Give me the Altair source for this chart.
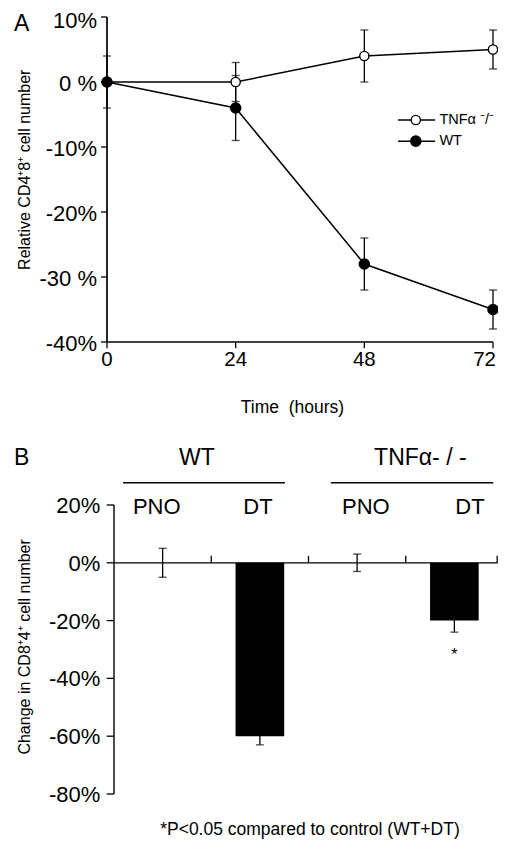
import altair as alt
import pandas as pd

FONT = "Liberation Sans"

# ---------- Panel A data ----------
hours = [0, 24, 48, 72]
tnf_mean = [0, 0, 4, 5]
tnf_err = [0, 3, 4, 3]
wt_mean = [0, -4, -28, -35]
wt_err = [4, 5, 4, 3]
a_yticks = [10, 0, -10, -20, -30, -40]
a_ylabels = ["10%", "0 %", "-10%", "-20%", "-30 %", "-40%"]
a_xlabels = ["0", "24", "48", "72"]

# ---------- Panel B data ----------
b_pos = [0, 1, 2, 3]
b_group = ["WT", "WT", "TNFα-/-", "TNFα-/-"]
b_treat = ["PNO", "DT", "PNO", "DT"]
b_change = [0, -60, 0, -20]
b_err = [5, 3, 3, 4]
b_yticks = [20, 0, -20, -40, -60, -80]
b_ylabels = ["20%", "0%", "-20%", "-40%", "-60%", "-80%"]

TITLE_A = "Relative CD4⁺8⁺ cell number"
TITLE_B = "Change in CD8⁺4⁺ cell number"

W, H = 490, 832

# scales (whole drawing area holds both panels)
sxA = alt.Scale(domain=[-18.466, 72.933], nice=False, zero=False)
syA = alt.Scale(domain=[-116.615, 11.385], nice=False, zero=False)
sxB = alt.Scale(domain=[-1.09, 3.9486], nice=False, zero=False)
syB = alt.Scale(domain=[-95.92, 191.97], nice=False, zero=False)


def XA(f):
    return alt.X(f, type="quantitative", scale=sxA, axis=None)


def YA(f):
    return alt.Y(f, type="quantitative", scale=syA, axis=None)


def XB(f):
    return alt.X(f, type="quantitative", scale=sxB, axis=None)


def YB(f):
    return alt.Y(f, type="quantitative", scale=syB, axis=None)


def txt(df, size, **kw):
    return alt.Chart(df).mark_text(font=FONT, fontSize=size, color="black", **kw)


# ================= Panel A =================
rows = []
for h, m, e in zip(hours, tnf_mean, tnf_err):
    rows.append(dict(hours=h, value=m, lo=m - e, hi=m + e, series="TNF"))
for h, m, e in zip(hours, wt_mean, wt_err):
    rows.append(dict(hours=h, value=m, lo=m - e, hi=m + e, series="WT"))
dfA = pd.DataFrame(rows)
baseA = alt.Chart(dfA)

lineA = baseA.mark_line(color="black", strokeWidth=1.5).encode(
    x=XA("hours"), y=YA("value"), detail="series:N")
errA = baseA.mark_errorbar(ticks=True, size=8, thickness=1.3, color="black").encode(
    x=XA("hours"), y=YA("lo"), y2="hi:Q")
ptsWT = baseA.transform_filter("datum.series == 'WT'").mark_point(
    shape="circle", filled=True, size=135, color="black", opacity=1).encode(
    x=XA("hours"), y=YA("value"))
ptsTNF = baseA.transform_filter("datum.series == 'TNF'").mark_point(
    shape="circle", filled=True, fill="white", stroke="black", strokeWidth=1.4,
    size=85, opacity=1).encode(x=XA("hours"), y=YA("value"))

# axes of panel A
dfAyt = pd.DataFrame(dict(v=a_yticks, lab=a_ylabels, x0=[0.0] * 6, x1=[-1.12] * 6, xl=[-1.865] * 6))
aYdom = alt.Chart(pd.DataFrame(dict(x=[0], y0=[-40], y1=[10]))).mark_rule(
    color="black", strokeWidth=1.7).encode(x=XA("x"), y=YA("y0"), y2="y1:Q")
aYtick = alt.Chart(dfAyt).mark_rule(color="black", strokeWidth=1.3).encode(
    x=XA("x0"), x2="x1:Q", y=YA("v"))
aYlab = txt(dfAyt, 22, align="right", baseline="middle", dy=2).transform_filter(
    "datum.v < 10").encode(x=XA("xl"), y=YA("v"), text="lab:N")
# top label kept a little lower so it stays inside the page
aYlabTop = txt(dfAyt, 22, align="right", baseline="middle", dy=4).transform_filter(
    "datum.v == 10").encode(x=XA("xl"), y=YA("v"), text="lab:N")

dfAxt = pd.DataFrame(dict(h=hours, lab=a_xlabels, y0=[-40] * 4, y1=[-40.95] * 4, yl=[-42.8] * 4))
aXdom = alt.Chart(pd.DataFrame(dict(x0=[0], x1=[72], y=[-40]))).mark_rule(
    color="black", strokeWidth=1.7).encode(x=XA("x0"), x2="x1:Q", y=YA("y"))
aXtick = alt.Chart(dfAxt).mark_rule(color="black", strokeWidth=1.3).encode(
    x=XA("h"), y=YA("y0"), y2="y1:Q")
aXlab = txt(dfAxt, 20.5, align="center", baseline="middle").transform_filter(
    "datum.h < 72").encode(x=XA("h"), y=YA("yl"), text="lab:N")
# last label sits against the right edge of the page
aXlabLast = txt(dfAxt, 20.5, align="right", baseline="middle", dx=3).transform_filter(
    "datum.h == 72").encode(x=XA("h"), y=YA("yl"), text="lab:N")

aTitles = pd.DataFrame(dict(t=["Time\u00a0\u00a0(hours)"], x=[34.6], y=[-50.2]))
aXtitle = txt(aTitles, 17.5, align="center", baseline="middle").encode(
    x=XA("x"), y=YA("y"), text="t:N")
aYt = pd.DataFrame(dict(t=[TITLE_A], x=[-15.3], y=[-13.5]))
aYtitle = txt(aYt, 16, align="center", baseline="middle", angle=270).encode(
    x=XA("x"), y=YA("y"), text="t:N")
labA = txt(pd.DataFrame(dict(t=["A"], x=[-15.9], y=[9.0])), 23, align="center",
           baseline="middle").encode(x=XA("x"), y=YA("y"), text="t:N")

# legend of panel A
leg_series = ["TNF", "WT"]
leg_labels = ["TNFα ⁻/⁻", "WT"]
leg_y = [-5.85, -9.1]
dfLeg = pd.DataFrame(dict(series=leg_series, label=leg_labels, y=leg_y,
                          x1=[54.3] * 2, x2=[61.2] * 2, xm=[57.6] * 2, xt=[62.0] * 2))
legLine = alt.Chart(dfLeg).mark_rule(color="black", strokeWidth=1.5).encode(
    x=XA("x1"), x2="x2:Q", y=YA("y"))
legWT = alt.Chart(dfLeg).transform_filter("datum.series == 'WT'").mark_point(
    shape="circle", filled=True, size=135, color="black", opacity=1).encode(
    x=XA("xm"), y=YA("y"))
legTNF = alt.Chart(dfLeg).transform_filter("datum.series == 'TNF'").mark_point(
    shape="circle", filled=True, fill="white", stroke="black", strokeWidth=1.4,
    size=85, opacity=1).encode(x=XA("xm"), y=YA("y"))
legText = txt(dfLeg, 14.5, align="left", baseline="middle").encode(
    x=XA("xt"), y=YA("y"), text="label:N")

panelA = alt.layer(lineA, errA, ptsTNF, ptsWT, aYdom, aYtick, aYlab, aYlabTop, aXdom, aXtick,
                   aXlab, aXlabLast, aXtitle, aYtitle, labA, legLine, legTNF, legWT, legText)

# ================= Panel B =================
dfB = pd.DataFrame(dict(pos=b_pos, group=b_group, treat=b_treat, change=b_change, err=b_err))
dfB["left"] = dfB["pos"] + 0.25
dfB["right"] = dfB["pos"] + 0.75
dfB["mid"] = dfB["pos"] + 0.5
dfB["lo"] = dfB["change"] - dfB["err"]
dfB["hi"] = dfB["change"] + dfB["err"]
dfB["base"] = 0

bars = alt.Chart(dfB).transform_filter("datum.change != 0").mark_bar(
    color="black").encode(x=XB("left"), x2="right:Q", y=YB("change"), y2="base:Q")
errB = alt.Chart(dfB).mark_errorbar(ticks=True, size=8, thickness=1.3, color="black").encode(
    x=XB("mid"), y=YB("lo"), y2="hi:Q")

zero_ticks = [1, 2, 3, 3.94]
dfZ = pd.DataFrame(dict(x=zero_ticks, y0=[0] * 4, y1=[2.4] * 4))
zline = alt.Chart(pd.DataFrame(dict(x0=[0], x1=[3.945], y=[0]))).mark_rule(
    color="black", strokeWidth=1.3).encode(x=XB("x0"), x2="x1:Q", y=YB("y"))
zticks = alt.Chart(dfZ).mark_rule(color="black", strokeWidth=1.3).encode(
    x=XB("x"), y=YB("y0"), y2="y1:Q")

dfByt = pd.DataFrame(dict(v=b_yticks, lab=b_ylabels, x0=[0.0] * 6, x1=[-0.075] * 6, xl=[-0.14] * 6))
bYdom = alt.Chart(pd.DataFrame(dict(x=[0], y0=[-80], y1=[20]))).mark_rule(
    color="black", strokeWidth=1.4).encode(x=XB("x"), y=YB("y0"), y2="y1:Q")
bYtick = alt.Chart(dfByt).mark_rule(color="black", strokeWidth=1.3).encode(
    x=XB("x0"), x2="x1:Q", y=YB("v"))
bYlab = txt(dfByt, 22, align="right", baseline="middle", dy=1).encode(
    x=XB("xl"), y=YB("v"), text="lab:N")
bYt = pd.DataFrame(dict(t=[TITLE_B], x=[-0.915], y=[-29.1]))
bYtitle = txt(bYt, 16, align="center", baseline="middle", angle=270).encode(
    x=XB("x"), y=YB("y"), text="t:N")

# group headers
hdr_text = ["WT", "TNFα- / -"]
hdr_x = [0.853, 3.15]
dfH = pd.DataFrame(dict(t=hdr_text, x=hdr_x, y=[36.2] * 2,
                        xl=[0.093, 2.23], xr=[1.758, 3.90], yl=[27.7] * 2))
hdrT = txt(dfH, 23, align="center", baseline="middle").encode(
    x=XB("x"), y=YB("y"), text="t:N")
hdrL = alt.Chart(dfH).mark_rule(color="black", strokeWidth=1.5).encode(
    x=XB("xl"), x2="xr:Q", y=YB("yl"))

sub_x = [0.44, 1.48, 2.59, 3.66]
dfS = pd.DataFrame(dict(t=b_treat, x=sub_x, y=[19.4] * 4))
subT = txt(dfS, 22, align="center", baseline="middle").encode(
    x=XB("x"), y=YB("y"), text="t:N")

ast = txt(pd.DataFrame(dict(t=["*"], x=[3.5], y=[-32.0])), 16, align="center",
          baseline="middle").encode(x=XB("x"), y=YB("y"), text="t:N")
foot = txt(pd.DataFrame(dict(t=["*P<0.05 compared to control (WT+DT)"], x=[2.015], y=[-92.3])),
           17.5, align="center", baseline="middle").encode(x=XB("x"), y=YB("y"), text="t:N")
labB = txt(pd.DataFrame(dict(t=["B"], x=[-0.95], y=[36.3])), 23, align="center",
           baseline="middle").encode(x=XB("x"), y=YB("y"), text="t:N")

panelB = alt.layer(bars, errB, zline, zticks, bYdom, bYtick, bYlab, bYtitle,
                   hdrT, hdrL, subT, ast, foot, labB)

chart = alt.layer(panelA, panelB).resolve_scale(x="independent", y="independent").properties(
    width=W, height=H, autosize=alt.AutoSizeParams(type="none"), padding=0
).configure(background="white", view=alt.ViewConfig(stroke=None, strokeWidth=0))

chart.save("out.html", embed_options={"renderer": "svg", "actions": False})
